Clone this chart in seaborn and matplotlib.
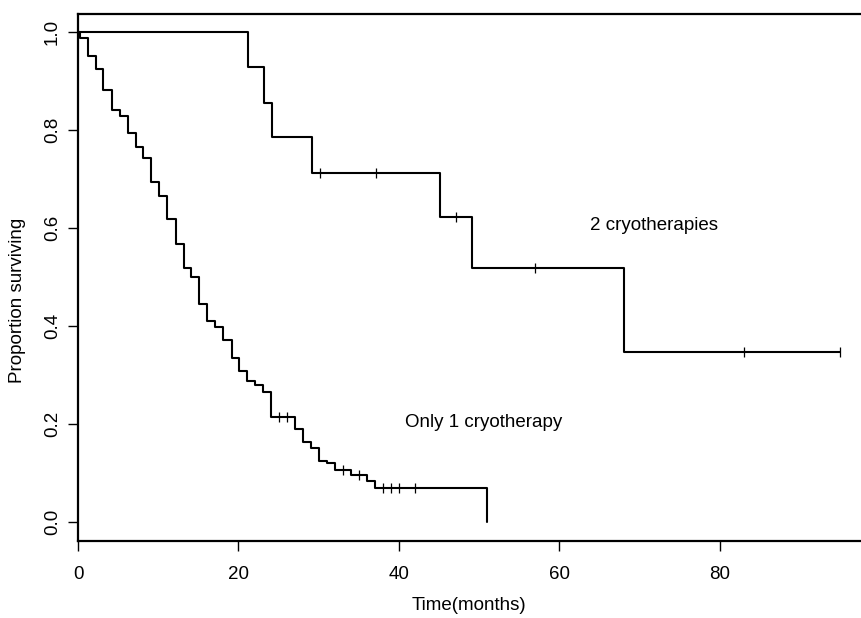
import numpy as np
import pandas as pd
import matplotlib
matplotlib.use("Agg")
import matplotlib.pyplot as plt
import seaborn as sns

# ---- data ----
# Only 1 cryotherapy: step times (months) and survival after each step
one_times = [0, 0.3, 1.2, 2.2, 3.1, 4.2, 5.2, 6.2, 7.2, 8.1, 9.1, 10.1, 11.1,
             12.2, 13.2, 14.1, 15.1, 16.1, 17.1, 18.1, 19.2, 20.1, 21.1, 22.1,
             23.1, 24.1, 27.0, 28.0, 29.0, 30.0, 31.0, 32.0, 34.0, 36.0, 37.0,
             51.0]
one_surv = [1.0, 0.987, 0.952, 0.924, 0.882, 0.841, 0.829, 0.795, 0.765, 0.742,
            0.695, 0.666, 0.618, 0.567, 0.519, 0.500, 0.444, 0.411, 0.397, 0.371,
            0.335, 0.308, 0.287, 0.279, 0.265, 0.215, 0.189, 0.163, 0.151, 0.125,
            0.120, 0.106, 0.096, 0.084, 0.070, 0.0]
one_cens_t = [25.1, 26.1, 33.0, 35.0, 38.0, 39.0, 40.0, 42.0]
one_cens_s = [0.215, 0.215, 0.106, 0.096, 0.070, 0.070, 0.070, 0.070]

# 2 cryotherapies
two_times = [0, 21.2, 23.2, 24.2, 29.2, 45.1, 49.1, 68.1, 95.0]
two_surv = [1.0, 0.928, 0.856, 0.785, 0.713, 0.623, 0.519, 0.346, 0.346]
two_cens_t = [30.2, 37.1, 47.1, 57.0, 83.0, 95.0]
two_cens_s = [0.713, 0.713, 0.623, 0.519, 0.346, 0.346]

x_ticks = [0, 20, 40, 60, 80]
y_ticks = [0.0, 0.2, 0.4, 0.6, 0.8, 1.0]
y_tick_labels = ["0.0", "0.2", "0.4", "0.6", "0.8", "1.0"]

# ---- plotting ----
sns.set_style("white")
plt.rcParams["font.family"] = ["Liberation Sans", "DejaVu Sans"]
plt.rcParams["text.color"] = "black"

W, H = 861, 618
fig = plt.figure(figsize=(W / 100, H / 100), dpi=100)
left_px, right_px, top_px, bottom_px = 78, 861, 14, 541
ax = fig.add_axes([left_px / W, (H - bottom_px) / H,
                   (right_px - left_px) / W, (bottom_px - top_px) / H])

df1 = pd.DataFrame({"t": one_times, "s": one_surv})
df2 = pd.DataFrame({"t": two_times, "s": two_surv})
sns.lineplot(data=df1, x="t", y="s", estimator=None, sort=False,
             drawstyle="steps-post", color="black", linewidth=1.5, ax=ax)
sns.lineplot(data=df2, x="t", y="s", estimator=None, sort=False,
             drawstyle="steps-post", color="black", linewidth=1.5, ax=ax)
sns.scatterplot(x=one_cens_t, y=one_cens_s, marker="|", s=55, color="black",
                linewidth=0.9, ax=ax, zorder=3)
sns.scatterplot(x=two_cens_t, y=two_cens_s, marker="|", s=55, color="black",
                linewidth=0.9, ax=ax, zorder=3)

px_per_month = 8.02
ax.set_xlim(0, (right_px - left_px) / px_per_month)
ax.set_ylim(-0.039, 1.037)

ax.set_xticks(x_ticks)
ax.set_xticklabels([str(v) for v in x_ticks])
ax.set_yticks(y_ticks)
ax.set_yticklabels(y_tick_labels, rotation=90, va="center")
ax.tick_params(axis="both", direction="out", length=7.2, width=1.0,
               color="black", labelsize=13.5, labelcolor="black")
ax.tick_params(axis="x", pad=10.5, bottom=True)
ax.tick_params(axis="y", pad=5, left=True)

for side in ["left", "bottom", "top"]:
    ax.spines[side].set_visible(True)
    ax.spines[side].set_color("black")
    ax.spines[side].set_linewidth(1.6)
ax.spines["right"].set_visible(False)

ax.set_xlabel("")
ax.set_ylabel("")
fig.text(469 / W, (H - 605) / H, "Time(months)", ha="center", va="center",
         fontsize=13.5, color="black")
fig.text(18 / W, (H - 300) / H, "Proportion surviving", ha="center",
         va="center", rotation=90, fontsize=13.5, color="black")

ax.text(63.8, 0.606, "2 cryotherapies", ha="left", va="center", fontsize=13.5,
        color="black")
ax.text(40.8, 0.203, "Only 1 cryotherapy", ha="left", va="center",
        fontsize=13.5, color="black")

fig.savefig("out.png", dpi=100, facecolor="white")
